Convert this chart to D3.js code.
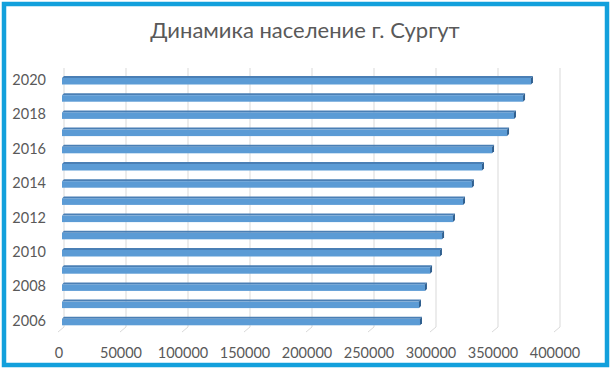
<!DOCTYPE html>
<html>
<head>
<meta charset="utf-8">
<script src="https://cdn.jsdelivr.net/npm/d3@7"></script>
<style>
  body { margin: 0; background: #fff; }
  svg { display: block; font-family: Lato, "Open Sans", sans-serif; }
</style>
</head>
<body>
<svg id="chart" width="613" height="370"></svg>
<script>
const years = [2006, 2007, 2008, 2009, 2010, 2011, 2012, 2013, 2014, 2015, 2016, 2017, 2018, 2019, 2020];
const population = [288700, 287900, 292700, 296800, 304800, 306500, 315300, 323400, 330600, 338700, 346800, 358900, 364500, 371800, 378200];
const xTicks = [0, 50000, 100000, 150000, 200000, 250000, 300000, 350000, 400000];
const title = "Динамика население г. Сургут";

const svg = d3.select("#chart");

// outer frame
svg.append("rect")
  .attr("x", 4).attr("y", 4)
  .attr("width", 603).attr("height", 361)
  .attr("fill", "#fff")
  .attr("stroke", "#12a0dc")
  .attr("stroke-width", 4.5);

svg.append("text")
  .attr("x", 305).attr("y", 38)
  .attr("text-anchor", "middle")
  .attr("font-size", 22)
  .attr("fill", "#595959")
  .text(title);

// back wall scale; front plane is shifted by depth
const x = d3.scaleLinear().domain([0, 400000]).range([64, 560]);
const y = d3.scaleBand().domain(years.slice().reverse()).range([71.4, 329.4]);
const dx = -6, dy = 5;

// gridlines with perspective floor stubs
const grid = svg.append("g");
xTicks.forEach(t => {
  grid.append("path")
    .attr("d", `M${x(t)},68 L${x(t)},327 L${x(t) + dx},${327 + dy}`)
    .attr("fill", "none")
    .attr("stroke", "#d9d9d9")
    .attr("stroke-width", 1);
});

// x labels
svg.append("g").selectAll("text")
  .data(xTicks)
  .enter()
  .append("text")
  .attr("x", d => x(d) + dx + 1)
  .attr("y", 358)
  .attr("text-anchor", "middle")
  .attr("font-size", 14.5)
  .attr("fill", "#595959")
  .text(d => d);

// y labels (every other year)
svg.append("g").selectAll("text")
  .data(years.filter(d => d % 2 === 0))
  .enter()
  .append("text")
  .attr("x", 46)
  .attr("y", d => y(d) + y.bandwidth() / 2 + 5)
  .attr("text-anchor", "end")
  .attr("font-size", 14.5)
  .attr("fill", "#595959")
  .text(d => d);

// 3d bars
const bars = svg.append("g");
years.forEach((yr, i) => {
  const c = y(yr) + y.bandwidth() / 2;
  const x0 = x(0) - 2;
  const x1 = x(population[i]) - 2;
  // top face
  bars.append("path")
    .attr("d", `M${x0},${c - 2} L${x0 + 2},${c - 4} L${x1 + 2},${c - 4} L${x1},${c - 2} Z`)
    .attr("fill", "#4a7fb5");
  // front face
  bars.append("rect")
    .attr("x", x0).attr("y", c - 2)
    .attr("width", x1 - x0).attr("height", 6.5)
    .attr("fill", "#5b9bd5");
  // end cap
  bars.append("path")
    .attr("d", `M${x1},${c - 2} L${x1 + 2},${c - 4} L${x1 + 2},${c + 2.5} L${x1},${c + 4.5} Z`)
    .attr("fill", "#2f5f8f");
});
</script>
</body>
</html>
